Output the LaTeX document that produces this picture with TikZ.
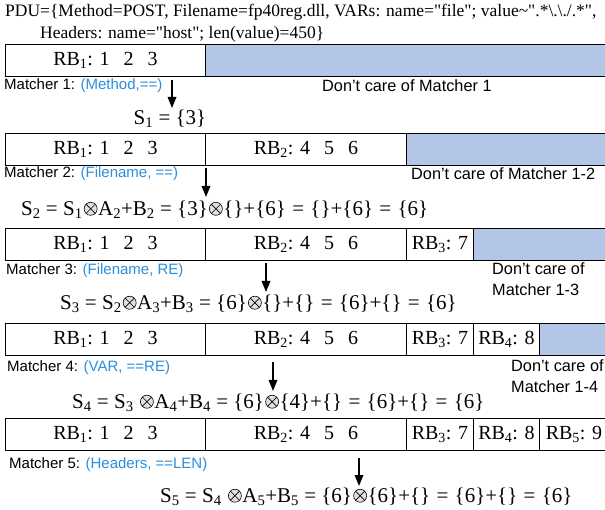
\documentclass[tikz,border=0pt]{standalone}
\usepackage{fontspec}
\setsansfont{Liberation Sans}
% serif family without TeX ligature mapping, so " stays a straight quote
\newfontfamily\tnr{Liberation Serif}
\usetikzlibrary{arrows.meta}
\definecolor{dcfill}{HTML}{B4C6E7}
\definecolor{keyblue}{HTML}{2A8EDC}
% circled-times operator with a light fill
\newcommand\otm{\hspace{0.06em}\tikz[baseline={(0,-0.33em)}]{%
  \draw[line width=0.6pt, fill=black!12] (0,0) circle (0.31em);
  \draw[line width=0.6pt] (45:0.31em)--(225:0.31em) (135:0.31em)--(315:0.31em);}\hspace{0.03em}}
\newcommand\sub[1]{\textsubscript{#1}}
\newcommand\gap{\hspace{0.7em}}
% slightly wide equals sign
\newcommand\eqs{\hspace{0.3em}=\hspace{0.3em}}
\begin{document}
\begin{tikzpicture}[x=1pt,y=-1pt,
  txt/.style={font=\tnr\fontsize{17.5}{20}\selectfont, inner sep=0pt},
  eq/.style={font=\tnr\fontsize{21}{24}\selectfont, inner sep=0pt, anchor=west},
  lbl/.style={font=\sffamily\fontsize{15}{19}\selectfont, inner sep=0pt, anchor=west},
  dcl/.style={font=\sffamily\fontsize{16.3}{21}\selectfont, inner sep=0pt, anchor=west, align=left},
  cell/.style={draw=black, line width=1pt, minimum height=32pt, inner sep=0pt,
    anchor=north west, font=\tnr\fontsize{20}{24}\selectfont},
  dc/.style={cell, fill=dcfill},
  flow/.style={line width=1.7pt, -{Triangle[length=11pt,width=8.5pt]}}]
\useasboundingbox (0,0) rectangle (605,510);

% packet description
\node[txt, anchor=west] (pdu1) at (5,12)
  {PDU=\{Method=POST, Filename=fp40reg.dll, VARs: name="file"; value\textasciitilde".*\textbackslash.\textbackslash./.*",};
\node[txt, anchor=west] (pdu2) at (40,34)
  {Headers: name="host"; len(value)=450\}};

% row 1
\node[cell, minimum width=200pt] (a1) at (5,44) {RB\sub{1}: 1\gap2\gap3};
\node[dc, minimum width=403pt] (a2) at (205,44) {};
\node[lbl] (m1) at (4,86) {Matcher 1: \textcolor{keyblue}{(Method,==)}};
\node[dcl] (d1) at (322,86) {Don’t care of Matcher 1};
\coordinate (p1) at (172,80);
\coordinate (q1) at (172,108);
\draw[flow] (p1) -- (q1);
\node[eq, anchor=center] (s1) at (170,119) {S\sub{1} = \{3\}};

% row 2
\node[cell, minimum width=200pt] (b1) at (5,133) {RB\sub{1}: 1\gap2\gap3};
\node[cell, minimum width=201pt] (b2) at (205,133) {RB\sub{2}: 4\gap5\gap6};
\node[dc, minimum width=202pt] (b3) at (406,133) {};
\node[lbl] (m2) at (4,174) {Matcher 2: \textcolor{keyblue}{(Filename, ==)}};
\node[dcl] (d2) at (411,174) {Don’t care of Matcher 1-2};
\coordinate (p2) at (206,168);
\coordinate (q2) at (206,197);
\draw[flow] (p2) -- (q2);
\node[eq] (s2) at (21,210)
  {S\sub{2} = S\sub{1}\otm A\sub{2}+B\sub{2} = \{3\}\otm\{\}+\{6\}\eqs\{\}+\{6\}\eqs\{6\}};

% row 3
\node[cell, minimum width=200pt] (c1) at (5,228) {RB\sub{1}: 1\gap2\gap3};
\node[cell, minimum width=201pt] (c2) at (205,228) {RB\sub{2}: 4\gap5\gap6};
\node[cell, minimum width=67pt] (c3) at (406,228) {RB\sub{3}: 7};
\node[dc, minimum width=135pt] (c4) at (473,228) {};
\node[lbl] (m3) at (6,271) {Matcher 3: \textcolor{keyblue}{(Filename, RE)}};
\node[dcl] (d3) at (492,279) {Don’t care of\\Matcher 1-3};
\coordinate (p3) at (266,263);
\coordinate (q3) at (266,292);
\draw[flow] (p3) -- (q3);
\node[eq] (s3) at (60,304)
  {S\sub{3} = S\sub{2}\otm A\sub{3}+B\sub{3} = \{6\}\otm\{\}+\{\}\eqs\{6\}+\{\}\eqs\{6\}};

% row 4
\node[cell, minimum width=200pt] (e1) at (5,323) {RB\sub{1}: 1\gap2\gap3};
\node[cell, minimum width=201pt] (e2) at (205,323) {RB\sub{2}: 4\gap5\gap6};
\node[cell, minimum width=67pt] (e3) at (406,323) {RB\sub{3}: 7};
\node[cell, minimum width=66pt] (e4) at (473,323) {RB\sub{4}: 8};
\node[dc, minimum width=69pt] (e5) at (539,323) {};
\node[lbl] (m4) at (7,368) {Matcher 4: \textcolor{keyblue}{(VAR, ==RE)}};
\node[dcl] (d4) at (511,376) {Don’t care of\\Matcher 1-4};
\coordinate (p4) at (273,362);
\coordinate (q4) at (273,391);
\draw[flow] (p4) -- (q4);
\node[eq] (s4) at (72,403)
  {S\sub{4} = S\sub{3} \otm A\sub{4}+B\sub{4} = \{6\}\otm\{4\}+\{\}\eqs\{6\}+\{\}\eqs\{6\}};

% row 5
\node[cell, minimum width=200pt] (f1) at (5,418) {RB\sub{1}: 1\gap2\gap3};
\node[cell, minimum width=201pt] (f2) at (205,418) {RB\sub{2}: 4\gap5\gap6};
\node[cell, minimum width=67pt] (f3) at (406,418) {RB\sub{3}: 7};
\node[cell, minimum width=66pt] (f4) at (473,418) {RB\sub{4}: 8};
\node[cell, minimum width=69pt] (f5) at (539,418) {RB\sub{5}: 9\hspace{3pt}};
\node[lbl] (m5) at (9,465) {Matcher 5: \textcolor{keyblue}{(Headers, ==LEN)}};
\coordinate (p5) at (359,458);
\coordinate (q5) at (359,486);
\draw[flow] (p5) -- (q5);
\node[eq] (s5) at (160,497)
  {S\sub{5} = S\sub{4} \otm A\sub{5}+B\sub{5} = \{6\}\otm\{6\}+\{\}\eqs\{6\}+\{\}\eqs\{6\}};
\end{tikzpicture}
\end{document}
